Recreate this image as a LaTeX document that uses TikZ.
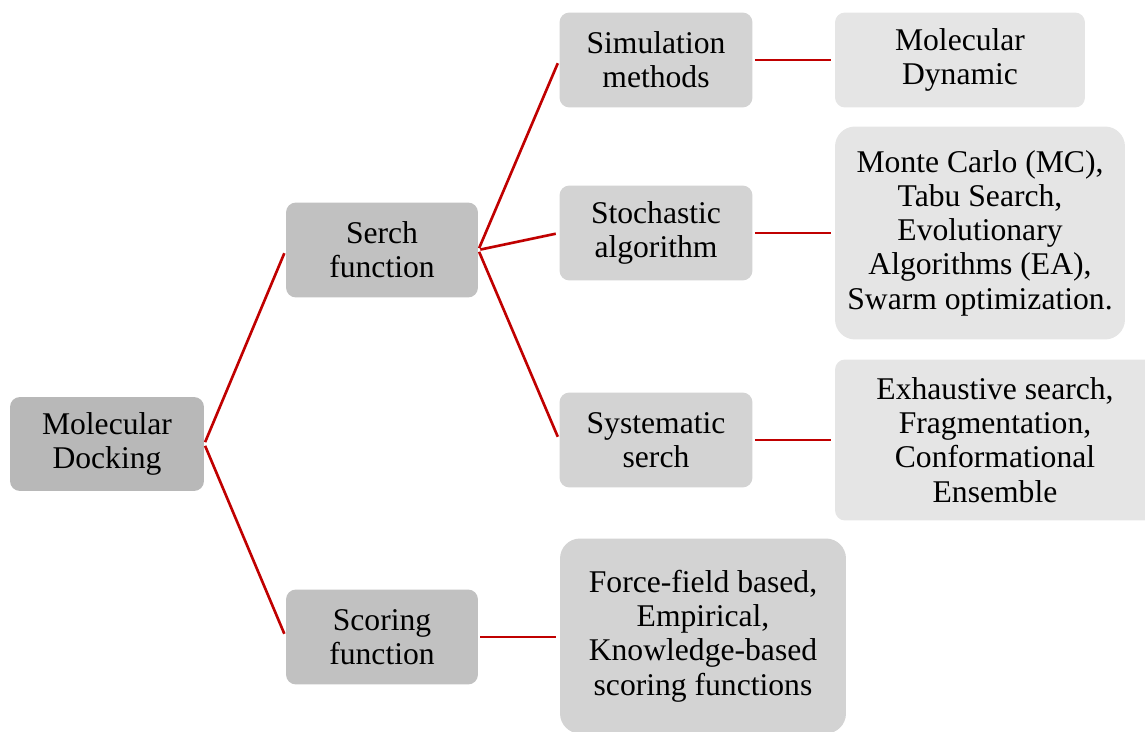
\documentclass[tikz,border=0pt]{standalone}
\usepackage{fontspec}
\setmainfont{Liberation Serif}
\newfontfamily\boxfont{Liberation Serif}
\usepackage{xcolor}
\definecolor{rootGray}{RGB}{184,184,184}
\definecolor{midGray}{RGB}{193,193,193}
\definecolor{leafGray}{RGB}{211,211,211}
\definecolor{lightGray}{RGB}{229,229,229}
\definecolor{linkRed}{RGB}{192,0,0}

\begin{document}
\begin{tikzpicture}[
    x=0.02cm, y=-0.02cm,
    box/.style={rectangle, rounded corners=0.2cm, align=center, inner sep=0pt, font=\boxfont\fontsize{18}{19.5}\selectfont},
    bigbox/.style={box, rounded corners=0.4cm},
    link/.style={draw=linkRed, line width=1.5pt, shorten <=0.04cm, shorten >=0.07cm}
]
\useasboundingbox (0,0) rectangle (1145,732);

\node[box, fill=rootGray, minimum width=3.88cm, minimum height=1.88cm] (dock) at (107,444) {Molecular\\Docking};

\node[box, fill=midGray, minimum width=3.84cm, minimum height=1.9cm] (serch) at (382,250) {Serch\\function};
\node[box, fill=midGray, minimum width=3.84cm, minimum height=1.9cm] (scoring) at (382,637) {Scoring\\function};

\node[box, fill=leafGray, minimum width=3.86cm, minimum height=1.9cm] (simul) at (656,60) {Simulation\\methods};
\node[box, fill=leafGray, minimum width=3.86cm, minimum height=1.9cm] (stoch) at (656,233) {Stochastic\\algorithm};
\node[box, fill=leafGray, minimum width=3.86cm, minimum height=1.9cm] (system) at (656,440) {Systematic\\serch};
\node[bigbox, fill=leafGray, minimum width=5.72cm, minimum height=3.9cm] (forcef) at (703,636) {Force-field based,\\Empirical,\\Knowledge-based\\scoring functions};

\node[box, fill=lightGray, minimum width=5.0cm, minimum height=1.9cm] (moldyn) at (960,60) {Molecular\\Dynamic};
\node[bigbox, fill=lightGray, minimum width=5.8cm, minimum height=4.26cm] (montec) at (980,233) {Monte Carlo (MC),\\Tabu Search,\\Evolutionary\\Algorithms (EA),\\Swarm optimization.};
\node[box, fill=lightGray, minimum width=6.4cm, minimum height=3.22cm] (exhaus) at (995,440) {Exhaustive search,\\Fragmentation,\\Conformational\\Ensemble};

\draw[link] (dock.east) -- (serch.west);
\draw[link] (dock.east) -- (scoring.west);
\draw[link] (serch.east) -- (simul.west);
\draw[link] (serch.east) -- (stoch.west);
\draw[link] (serch.east) -- (system.west);
\draw[link] (scoring.east) -- (forcef.west |- scoring.east);
\draw[link] (simul.east) -- (moldyn.west);
\draw[link] (stoch.east) -- (montec.west);
\draw[link] (system.east) -- (exhaus.west);
\end{tikzpicture}
\end{document}
